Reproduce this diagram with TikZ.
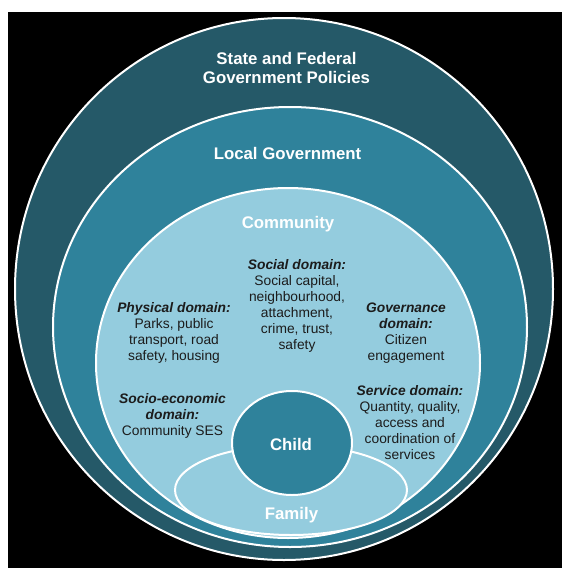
\documentclass[tikz,border=0pt]{standalone}
\usepackage{fontspec}
\setmainfont{Liberation Sans}
\definecolor{outerc}{RGB}{37,89,104}
\definecolor{localc}{RGB}{47,130,155}
\definecolor{commc}{RGB}{148,204,222}
\definecolor{textc}{RGB}{28,28,28}
\tikzset{
  ring/.style={draw=white, line width=2pt},
  wlabel/.style={text=white, font=\bfseries\fontsize{16.8}{19.5}\selectfont, align=center, inner sep=0pt},
  dom/.style={text=textc, font=\fontsize{13.8}{16}\selectfont, align=center, inner sep=0pt}
}
\newcommand{\domhead}[1]{\textbf{\textit{#1}}}
\begin{document}
\begin{tikzpicture}[x=1pt,y=-1pt]
\useasboundingbox (0,0) rectangle (562,568);
\fill[white] (0,0) rectangle (562,568);
\fill[black] (8,12) rectangle (562,568);
% nested rings
\draw[ring, fill=outerc] (284,289) ellipse [x radius=269pt, y radius=271pt];
\draw[ring, fill=localc] (290,327) ellipse [x radius=237pt, y radius=220pt];
\draw[ring, fill=commc] (288,363) ellipse [x radius=192pt, y radius=175pt];
\draw[ring, fill=commc] (291,490) ellipse [x radius=116pt, y radius=45pt];
\draw[ring, fill=localc] (292,443) ellipse [x radius=60pt, y radius=52pt];
% labels
\node[wlabel] (state) at (286.5,68) {State and Federal\\Government Policies};
\node[wlabel] (local) at (287.5,153) {Local Government};
\node[wlabel] (comm) at (288,224) {Community};
\node[wlabel] (child) at (291,444) {Child};
\node[wlabel] (family) at (291.5,515) {Family};
% domains
\node[dom] (social) at (297,306) {\domhead{Social domain:}\\Social capital,\\neighbourhood,\\attachment,\\crime, trust,\\safety};
\node[dom] (physical) at (174,333) {\domhead{Physical domain:}\\Parks, public\\transport, road\\safety, housing};
\node[dom] (governance) at (406,333) {\domhead{Governance}\\\domhead{domain:}\\Citizen\\engagement};
\node[dom] (socio) at (172.5,416) {\domhead{Socio-economic}\\\domhead{domain:}\\Community SES};
\node[dom] (service) at (410,423) {\domhead{Service domain:}\\Quantity, quality,\\access and\\coordination of\\services};
\end{tikzpicture}
\end{document}
